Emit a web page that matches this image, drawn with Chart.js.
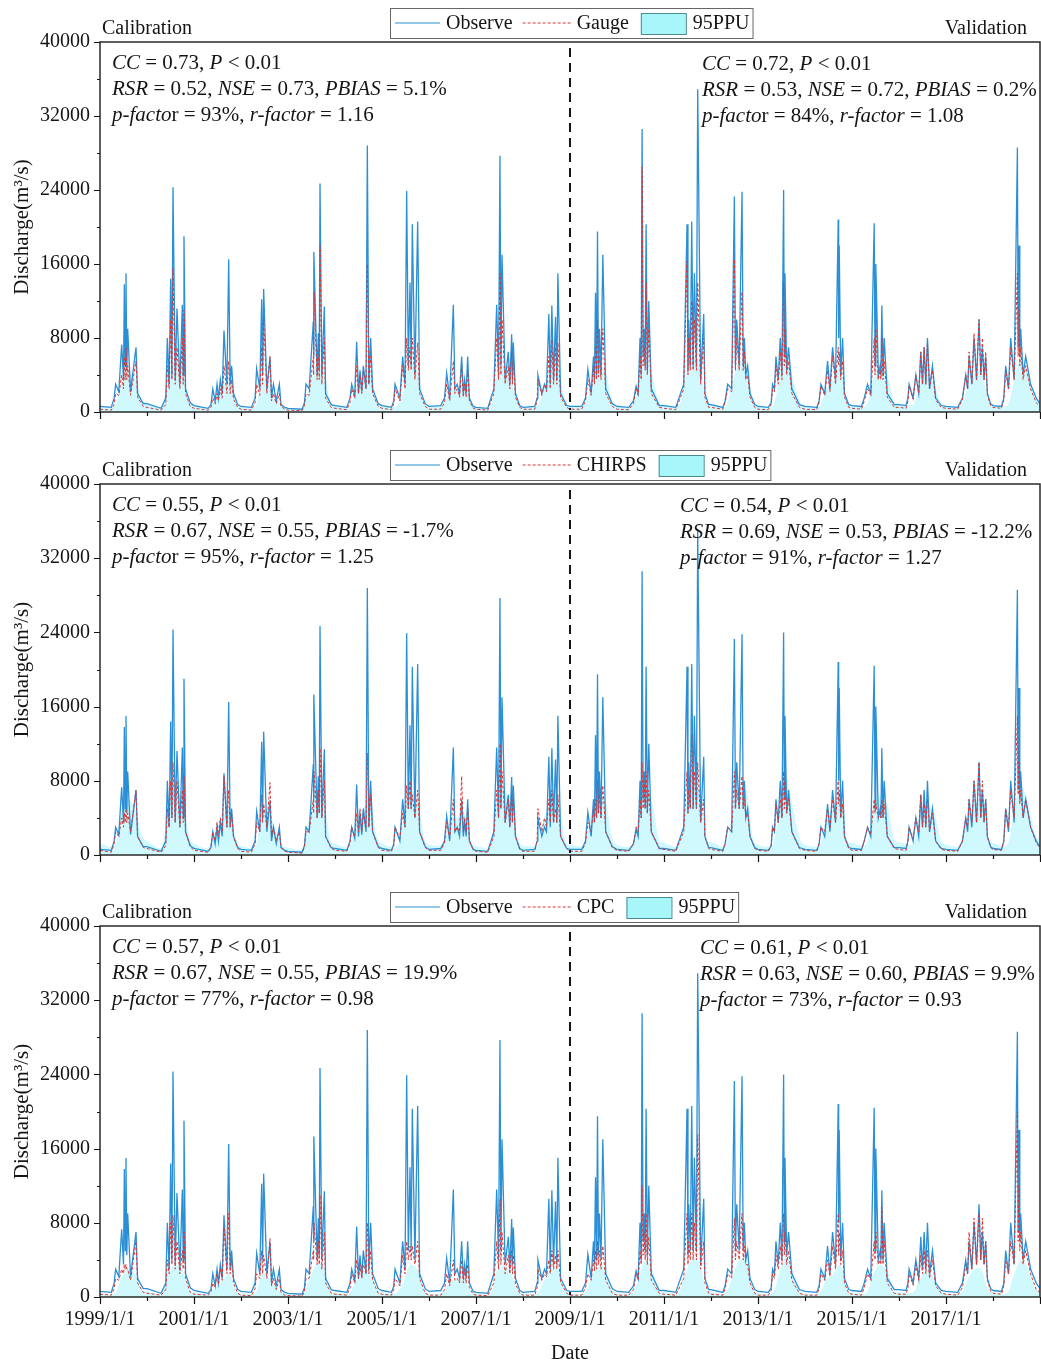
<!DOCTYPE html>
<html>
<head>
<meta charset="utf-8">
<script src="https://cdn.jsdelivr.net/npm/chart.js@4.4.1/dist/chart.umd.min.js"></script>
<style>
  body { margin: 0; background: #fff; }
  .pan { position: relative; width: 1041px; }
</style>
</head>
<body>
<div class="pan" style="height:442px"><canvas id="c0"></canvas></div>
<div class="pan" style="height:442px"><canvas id="c1"></canvas></div>
<div class="pan" style="height:482px"><canvas id="c2"></canvas></div>
<script>
/* Daily discharge 1999-2018: observed vs. simulated (Gauge / CHIRPS / CPC), 95PPU band */

const TICK_YEARS = [1999, 2001, 2003, 2005, 2007, 2009, 2011, 2013, 2015, 2017];
const SPLIT_YEAR = 2009;

// time (decimal years), 16 points per year
const T = [
  1999.00,1999.24,1999.30,1999.333,1999.40,1999.461,1999.50,1999.518,1999.536,1999.553,1999.571,1999.589,1999.65,1999.766,1999.80,1999.92,
  2000.00,2000.30,2000.40,2000.433,2000.47,2000.504,2000.53,2000.553,2000.60,2000.638,2000.70,2000.752,2000.77,2000.787,2000.82,2000.92,
  2001.00,2001.30,2001.36,2001.40,2001.45,2001.49,2001.52,2001.56,2001.60,2001.638,2001.70,2001.738,2001.77,2001.80,2001.84,2001.93,
  2002.00,2002.22,2002.30,2002.333,2002.40,2002.44,2002.46,2002.482,2002.55,2002.617,2002.65,2002.69,2002.75,2002.816,2002.85,2002.93,
  2003.00,2003.30,2003.35,2003.383,2003.45,2003.539,2003.546,2003.553,2003.62,2003.645,2003.665,2003.681,2003.72,2003.773,2003.80,2003.92,
  2004.00,2004.25,2004.32,2004.355,2004.42,2004.461,2004.50,2004.532,2004.57,2004.603,2004.66,2004.688,2004.72,2004.759,2004.80,2004.92,
  2005.00,2005.20,2005.25,2005.277,2005.38,2005.44,2005.49,2005.525,2005.56,2005.596,2005.62,2005.645,2005.70,2005.759,2005.80,2005.92,
  2006.00,2006.25,2006.33,2006.376,2006.44,2006.518,2006.55,2006.60,2006.65,2006.695,2006.73,2006.759,2006.79,2006.823,2006.86,2006.94,
  2007.00,2007.25,2007.38,2007.44,2007.48,2007.51,2007.53,2007.553,2007.62,2007.688,2007.72,2007.759,2007.775,2007.794,2007.84,2007.93,
  2008.00,2008.25,2008.30,2008.317,2008.40,2008.458,2008.50,2008.55,2008.58,2008.614,2008.65,2008.692,2008.72,2008.742,2008.80,2008.93,
  2009.00,2009.25,2009.33,2009.38,2009.45,2009.50,2009.52,2009.543,2009.565,2009.585,2009.605,2009.627,2009.66,2009.698,2009.76,2009.90,
  2010.00,2010.25,2010.35,2010.407,2010.45,2010.49,2010.515,2010.534,2010.555,2010.575,2010.60,2010.619,2010.645,2010.676,2010.73,2010.90,
  2011.00,2011.25,2011.42,2011.49,2011.51,2011.526,2011.56,2011.59,2011.62,2011.646,2011.69,2011.717,2011.78,2011.845,2011.87,2011.95,
  2012.00,2012.25,2012.30,2012.355,2012.44,2012.497,2012.52,2012.547,2012.60,2012.66,2012.685,2012.71,2012.74,2012.78,2012.83,2012.93,
  2013.00,2013.22,2013.28,2013.31,2013.35,2013.382,2013.43,2013.474,2013.51,2013.545,2013.56,2013.574,2013.61,2013.65,2013.72,2013.88,
  2014.00,2014.25,2014.30,2014.339,2014.42,2014.48,2014.53,2014.587,2014.65,2014.707,2014.716,2014.728,2014.76,2014.80,2014.84,2014.93,
  2015.00,2015.20,2015.26,2015.33,2015.40,2015.472,2015.49,2015.507,2015.56,2015.60,2015.615,2015.635,2015.66,2015.685,2015.75,2015.90,
  2016.00,2016.15,2016.19,2016.215,2016.30,2016.358,2016.42,2016.464,2016.50,2016.535,2016.57,2016.606,2016.65,2016.712,2016.78,2016.90,
  2017.00,2017.25,2017.35,2017.42,2017.46,2017.491,2017.55,2017.597,2017.65,2017.703,2017.74,2017.774,2017.81,2017.845,2017.88,2017.95,
  2018.00,2018.18,2018.23,2018.27,2018.33,2018.377,2018.45,2018.519,2018.535,2018.554,2018.57,2018.589,2018.64,2018.696,2018.80,2018.92,
  2019.00
];

// observed discharge (m3/s)
const OBS = [
  600,500,1500,3000,2200,7300,3500,13800,5000,15000,4500,9000,2200,7000,2000,900,
  900,400,1500,8000,3000,14400,4000,24300,3500,11200,3000,11600,4000,19000,2500,1000,
  700,400,800,2500,1200,3000,1500,3500,2000,8800,3000,16500,3000,5000,2000,800,
  600,500,1500,4700,2500,12200,4000,13300,2500,5900,1500,3000,1200,3000,800,500,
  400,300,1000,3000,2500,9800,6000,17300,4000,8500,4500,24700,4000,11400,2000,800,
  700,500,1500,3000,1800,7600,2000,4500,2200,5000,2500,28800,3000,8000,2500,900,
  700,500,1200,3000,1500,6000,3000,23900,5000,14000,5000,20300,4000,20600,2500,900,
  600,700,1500,4200,1500,11600,2500,3000,2000,6000,2000,3500,2000,6000,1500,600,
  500,400,2500,11600,4000,27700,5000,17000,3500,6500,3000,8400,3500,7500,2000,700,
  500,600,1500,4000,2000,3000,2500,10600,3000,11500,3500,10300,3500,15000,2000,700,
  600,600,1500,4600,2000,6000,3500,12900,4000,19500,4500,9000,4000,17000,2500,900,
  600,500,1200,2800,2000,8000,4000,30600,6000,9000,5000,20300,4500,12000,2500,700,
  700,500,3000,20300,4500,10000,5000,20600,5000,15000,5000,34900,3500,10600,2000,800,
  800,500,1200,3000,2500,23300,5000,10000,5000,23800,5000,8000,4000,5000,2000,800,
  600,500,1000,3000,2500,6000,3500,8000,4000,24000,6000,15000,4500,7000,2500,800,
  600,500,1200,3000,2000,5500,2500,7000,3500,20800,8000,18000,4000,8000,2000,800,
  700,600,1500,3000,2000,20400,5000,16000,4000,5000,4000,11500,4000,8000,2000,800,
  800,700,1500,3000,1500,4000,2000,6500,3000,7000,3000,8000,2500,5000,1500,700,
  600,500,1500,4000,2500,6000,3000,8000,3500,10000,4000,7000,3500,6000,2000,900,
  700,600,1500,5000,2500,8000,3500,28600,7000,18000,6000,9000,4000,6000,3000,1500,
  900
];

// simulated with gauge rainfall
const GAUGE = [
  300,200,800,2000,1800,4000,2500,6000,3500,7000,3500,5000,1800,5500,1600,600,
  500,200,800,5000,2500,10000,3500,15500,3000,7000,2500,8000,3000,11000,2000,600,
  400,200,500,1500,900,2000,1200,2500,1500,5000,2000,5500,2000,3500,1400,500,
  300,200,1000,3000,1800,7000,3000,10000,2000,6000,1200,2000,900,2000,600,300,
  200,150,700,2000,1800,6000,4000,13000,3500,6000,3500,18000,3000,8000,1500,500,
  400,250,1000,2500,1500,5000,2000,4000,2000,4500,2500,16000,3000,6000,2000,600,
  400,250,900,2500,1200,5000,2500,8000,4500,7000,4500,8000,3500,7500,2000,600,
  300,300,1000,3000,1200,5500,2000,2500,1600,5000,1600,3000,1600,4500,1200,400,
  300,200,2000,8000,3500,15000,4000,10000,3000,5000,2500,6500,3000,5500,1600,500,
  300,300,1200,3500,1800,3000,2200,6000,2500,7800,3000,7000,3000,7500,1600,500,
  300,300,1200,3500,1800,5000,3000,7000,3500,10000,3800,6000,3500,9000,2000,600,
  300,250,900,2500,1800,6000,3500,26500,5000,7000,4500,14000,4000,9000,2000,500,
  400,250,2500,16300,4000,8000,4500,12000,4500,10000,4500,14000,3000,8000,1600,500,
  500,300,1000,2500,2200,16500,4500,8000,4500,13000,4500,6500,3500,4000,1600,500,
  300,250,800,2500,2200,5000,3000,6500,3500,14000,5000,9000,4000,5500,2000,500,
  300,250,1000,2800,1800,4500,2200,6000,3000,7000,5000,6500,3500,5500,1600,500,
  400,300,1200,2500,1800,8000,4000,9000,3500,4500,3500,8000,3500,5500,1600,500,
  500,400,1200,2800,1400,4000,2000,6500,3000,7000,3000,7500,2500,4500,1300,500,
  400,300,1300,4000,2500,6500,3000,8500,3500,10000,4000,8000,3500,6500,1800,700,
  500,400,1300,4500,2500,7000,3500,15000,6000,11000,5000,7000,3500,5000,2500,1000,
  600
];

// simulated with CHIRPS rainfall
const CHIRPS = [
  500,300,1200,2500,2000,4000,3000,4500,3500,5000,3500,4500,2500,7000,2000,800,
  700,300,1000,5000,3000,8000,4000,10000,3500,8000,3000,7000,3500,8500,2500,900,
  500,300,800,2500,1500,3500,2000,4000,2500,8500,3000,7000,3000,4500,2000,700,
  400,300,1200,3500,2500,6500,3500,5500,3000,7800,2000,3000,1500,2500,900,400,
  300,200,900,2500,2500,6000,4500,9000,4000,7000,4500,11500,4000,8000,2000,700,
  500,400,1300,3000,2000,4500,2500,5000,2500,4500,3000,11000,3000,6500,2500,800,
  500,400,1000,3000,1800,4500,3000,7500,5000,8000,5000,6500,4000,7000,2500,800,
  500,500,1300,3500,1800,6000,2500,3000,2500,8500,2500,4000,2500,5000,1500,600,
  400,300,2000,7000,4000,12000,5000,9000,3500,6000,3000,6500,3500,6000,2000,600,
  400,400,1500,5000,2500,4000,3000,6000,3500,7000,3500,5000,3500,6500,2000,700,
  400,400,1300,3500,2500,5000,3500,6000,4000,8000,4500,6500,4000,7500,2500,800,
  500,400,1200,3000,2500,6000,4000,10000,5000,8000,5000,9000,4500,7000,2500,700,
  600,400,2500,9000,4500,7000,5000,13000,5000,9000,5000,10000,3500,6000,2000,700,
  600,400,1200,3000,2500,9000,5000,7000,5000,8500,5000,6000,4000,4500,2000,700,
  500,400,1000,3000,2500,5500,3500,6000,4000,9000,5000,8000,4500,6000,2500,700,
  500,400,1200,3000,2500,5000,2800,6000,3500,8000,5500,7000,4000,5500,2000,700,
  500,500,1500,3000,2200,6000,4500,5500,4000,4500,4000,6000,4000,5500,2000,700,
  600,500,1500,3000,1800,4000,2500,6500,3000,5500,3000,6000,2500,4500,1500,600,
  500,400,1500,4000,2800,6000,3500,8000,3500,10000,4000,8000,3500,6000,2000,800,
  600,500,1500,5000,3000,7000,4000,15000,6500,10000,5500,7000,4000,6000,3000,1300,
  700
];

// simulated with CPC rainfall
const CPC = [
  300,200,900,2000,1800,3000,2500,3500,3000,3500,3000,3000,1800,6000,1500,500,
  400,200,800,4000,2500,8000,3500,8800,3000,6000,2500,5000,3000,7000,2000,500,
  300,200,500,1500,1000,2500,1300,3000,1800,7500,2500,9000,2500,4000,1500,400,
  200,150,900,2500,2000,5000,2500,4500,2000,6300,1200,2000,800,2000,500,200,
  150,100,600,2000,2000,5000,4000,8000,3500,6000,3500,11000,3000,7000,1500,400,
  300,200,1000,2500,1500,4000,2000,3500,2000,3500,2500,8000,2500,5000,1800,400,
  300,200,800,2000,1200,4500,2500,6000,4000,5500,4000,5500,3500,6000,2000,400,
  200,200,800,2500,1200,4000,1800,2000,1500,4000,1500,3000,1500,3500,1000,300,
  200,150,1500,6000,3000,10500,3500,7000,2500,4500,2500,5000,2500,4500,1400,400,
  200,200,1000,3000,1800,2500,2200,4000,2500,5000,3000,4500,3000,5000,1600,400,
  200,200,1000,2500,1800,4000,2800,5000,3000,6000,3500,5000,3000,5500,1800,400,
  200,200,800,2500,1800,5000,3500,12000,4500,7000,4000,9000,3500,6500,1800,400,
  300,200,2000,9000,3500,6000,4000,9000,4000,8000,4000,17500,3000,6000,1500,400,
  300,200,900,2500,2000,8500,4000,6000,4000,9000,4000,5500,3500,3500,1500,400,
  200,200,700,2500,2000,4500,3000,5500,3500,9000,4500,7000,3500,5000,1800,400,
  200,200,900,2500,1800,4000,2200,5500,3000,9000,4500,7000,3500,5000,1500,400,
  300,200,1000,2500,1800,6000,4000,7000,3500,4000,3500,9700,3500,6000,1500,400,
  300,300,1000,2500,1300,3500,1800,4500,2500,5000,2500,5000,2000,4000,1200,400,
  300,200,1000,3500,2500,7000,3000,8500,3500,9000,4000,8500,3500,6000,1800,600,
  400,300,1200,4000,2500,6000,3500,20000,6000,12000,5000,7000,3500,5000,2500,800,
  500
];

// 95PPU upper bound, 6 points per year
const PPU_T = [
  1999.00,1999.30,1999.45,1999.60,1999.75,1999.90, 2000.00,2000.30,2000.45,2000.60,2000.75,2000.90,
  2001.00,2001.30,2001.45,2001.60,2001.75,2001.90, 2002.00,2002.30,2002.45,2002.60,2002.75,2002.90,
  2003.00,2003.30,2003.45,2003.60,2003.75,2003.90, 2004.00,2004.30,2004.45,2004.60,2004.75,2004.90,
  2005.00,2005.30,2005.45,2005.60,2005.75,2005.90, 2006.00,2006.30,2006.45,2006.60,2006.75,2006.90,
  2007.00,2007.30,2007.45,2007.60,2007.75,2007.90, 2008.00,2008.30,2008.45,2008.60,2008.75,2008.90,
  2009.00,2009.30,2009.45,2009.60,2009.75,2009.90, 2010.00,2010.30,2010.45,2010.60,2010.75,2010.90,
  2011.00,2011.30,2011.45,2011.60,2011.75,2011.90, 2012.00,2012.30,2012.45,2012.60,2012.75,2012.90,
  2013.00,2013.30,2013.45,2013.60,2013.75,2013.90, 2014.00,2014.30,2014.45,2014.60,2014.75,2014.90,
  2015.00,2015.30,2015.45,2015.60,2015.75,2015.90, 2016.00,2016.30,2016.45,2016.60,2016.75,2016.90,
  2017.00,2017.30,2017.45,2017.60,2017.75,2017.90, 2018.00,2018.30,2018.45,2018.60,2018.75,2018.90,
  2019.00
];
const PPU_GAUGE = [
  700,600,3000,4500,3500,1200, 1000,500,4000,5500,4500,1200,
  800,500,1500,2500,3500,1000, 600,600,3500,3000,1500,600,
  500,400,2500,5000,5000,1000, 800,600,2500,3500,4500,1100,
  800,600,2000,5500,4500,1100, 700,800,2500,2500,3000,800,
  600,500,4000,5000,3500,900, 600,700,2500,4000,4500,900,
  700,700,3000,5000,4500,1100, 700,600,2500,6000,4000,900,
  800,600,3500,6000,5500,1000, 900,600,3000,5500,5500,1000,
  700,600,3500,6500,3500,1000, 700,600,2500,3500,5000,1000,
  800,700,3500,5000,4000,1000, 900,800,3000,4000,3000,900,
  700,600,2500,4000,4500,1200, 800,700,3500,6000,4000,1600,
  1000
];
const PPU_CHIRPS = [
  1200,900,4500,6000,5000,2000, 1500,800,5500,7000,6000,2000,
  1200,800,2500,4000,5000,1600, 1000,900,5000,4500,2500,1000,
  800,700,4000,7000,6500,1600, 1200,900,4000,5000,6000,1800,
  1200,900,3500,7000,6000,1800, 1100,1200,4000,4000,4500,1300,
  1000,800,5500,7000,5000,1500, 1000,1100,4000,5500,6000,1500,
  1100,1100,4500,6500,6000,1700, 1100,1000,4000,7500,5500,1500,
  1300,1000,5000,7500,7000,1600, 1400,1000,4500,7000,7000,1600,
  1100,1000,5000,8000,5000,1600, 1100,1000,4000,5000,6500,1600,
  1300,1100,5000,6500,5500,1600, 1400,1200,4500,5500,4500,1500,
  1100,1000,4000,5500,6000,1800, 1300,1100,5000,7500,5500,2200,
  1500
];
const PPU_CPC = [
  400,300,2000,3000,2500,700, 600,300,2500,3500,3000,700,
  500,300,1000,1800,2500,600, 400,400,2500,2000,1000,400,
  300,250,1800,3500,3500,600, 500,400,1800,2500,3000,700,
  500,400,1500,3500,3000,700, 400,500,1800,1800,2000,500,
  400,300,2800,3500,2500,500, 400,400,1800,3000,3000,500,
  400,400,2000,3500,3000,700, 400,400,1800,4000,3000,500,
  500,400,2500,4000,3800,600, 500,400,2000,4000,4000,600,
  400,400,2500,4500,2500,600, 400,400,1800,2500,3500,600,
  500,400,2500,3500,2800,600, 500,500,2000,3000,2000,500,
  400,400,1800,3000,3000,700, 500,400,2500,4000,3000,900,
  600
];

// performance statistics (*...* = italic)
const STATS_GAUGE = [
  ['*CC* = 0.73, *P* < 0.01', '*RSR* = 0.52, *NSE* = 0.73, *PBIAS* = 5.1%', '*p-facto*r = 93%, *r-factor* = 1.16'],
  ['*CC* = 0.72, *P* < 0.01', '*RSR* = 0.53, *NSE* = 0.72, *PBIAS* = 0.2%', '*p-facto*r = 84%, *r-factor* = 1.08']
];
const STATS_CHIRPS = [
  ['*CC* = 0.55, *P* < 0.01', '*RSR* = 0.67, *NSE* = 0.55, *PBIAS* = -1.7%', '*p-facto*r = 95%, *r-factor* = 1.25'],
  ['*CC* = 0.54, *P* < 0.01', '*RSR* = 0.69, *NSE* = 0.53, *PBIAS* = -12.2%', '*p-facto*r = 91%, *r-factor* = 1.27']
];
const STATS_CPC = [
  ['*CC* = 0.57, *P* < 0.01', '*RSR* = 0.67, *NSE* = 0.55, *PBIAS* = 19.9%', '*p-facto*r = 77%, *r-factor* = 0.98'],
  ['*CC* = 0.61, *P* < 0.01', '*RSR* = 0.63, *NSE* = 0.60, *PBIAS* = 9.9%', '*p-facto*r = 73%, *r-factor* = 0.93']
];

const FONT = '"Liberation Serif", "Times New Roman", serif';
const BLUE = '#2b8fd6';
const RED = 'rgb(214,56,56)';
const CYAN = 'rgba(130,238,248,0.38)';
const INK = '#151515';

const pts = (ts, vs) => ts.map((t, i) => ({ x: t, y: vs[i] }));

function richLine(ctx, s, x, y) {
  s.split('*').forEach((part, i) => {
    ctx.font = (i % 2 ? 'italic ' : '') + '21px ' + FONT;
    ctx.fillText(part, x, y);
    x += ctx.measureText(part).width;
  });
}

/* ---------- frame, ticks, split line, legend, labels ---------- */

const framePlugin = {
  id: 'frame',
  afterDraw(chart, args, o) {
    const { ctx, chartArea: a, scales: { x, y } } = chart;
    ctx.save();
    ctx.strokeStyle = '#2a2a2a';
    ctx.lineWidth = 1.5;
    ctx.strokeRect(a.left, a.top, a.right - a.left, a.bottom - a.top);

    ctx.lineWidth = 1.2;
    ctx.strokeStyle = INK;
    ctx.beginPath();
    for (let yr = 1999; yr <= 2019; yr++) {
      const px = Math.round(x.getPixelForValue(yr)) + 0.5;
      const len = (yr - 1999) % 2 === 0 ? 7 : 4;
      ctx.moveTo(px, a.bottom);
      ctx.lineTo(px, a.bottom + len);
    }
    for (let v = 0; v <= 40000; v += 4000) {
      const py = Math.round(y.getPixelForValue(v)) + 0.5;
      const len = v % 8000 === 0 ? 6 : 3;
      ctx.moveTo(a.left, py);
      ctx.lineTo(a.left - len, py);
    }
    ctx.stroke();

    // calibration / validation split
    const sx = x.getPixelForValue(SPLIT_YEAR);
    ctx.setLineDash([9, 6]);
    ctx.lineWidth = 2;
    ctx.beginPath();
    ctx.moveTo(sx, a.top + 6);
    ctx.lineTo(sx, a.bottom - 2);
    ctx.stroke();
    ctx.setLineDash([]);

    // period labels
    ctx.fillStyle = INK;
    ctx.textBaseline = 'middle';
    ctx.font = '20px ' + FONT;
    ctx.textAlign = 'left';
    ctx.fillText('Calibration', a.left + 2, a.top - 13);
    ctx.textAlign = 'right';
    ctx.fillText('Validation', a.right - 13, a.top - 13);
    ctx.textAlign = 'left';

    // statistics
    o.stats[0].forEach((s, i) => richLine(ctx, s, a.left + 12, a.top + 21 + i * 26));
    o.stats[1].forEach((s, i) => richLine(ctx, s, o.valX, a.top + 22 + i * 26));

    // legend
    ctx.font = '20px ' + FONT;
    const wObs = ctx.measureText('Observe').width;
    const wSim = ctx.measureText(o.sim).width;
    const wPpu = ctx.measureText('95PPU').width;
    const bx = 390, by = 8, bh = 30, cy = by + bh / 2;
    const bw = 5 + 45 + 6 + wObs + 10 + 50 + 4 + wSim + 12 + 45 + 7 + wPpu + 3;
    ctx.fillStyle = '#fff';
    ctx.fillRect(bx, by, bw, bh);
    ctx.strokeStyle = '#666';
    ctx.lineWidth = 1;
    ctx.strokeRect(bx + 0.5, by + 0.5, bw, bh);
    let lx = bx + 5;
    ctx.strokeStyle = BLUE;
    ctx.lineWidth = 1.2;
    ctx.beginPath(); ctx.moveTo(lx, cy); ctx.lineTo(lx + 45, cy); ctx.stroke();
    lx += 51;
    ctx.fillStyle = INK;
    ctx.fillText('Observe', lx, cy + 1);
    lx += wObs + 10;
    ctx.strokeStyle = RED;
    ctx.lineWidth = 1;
    ctx.setLineDash([3, 2]);
    ctx.beginPath(); ctx.moveTo(lx, cy); ctx.lineTo(lx + 50, cy); ctx.stroke();
    ctx.setLineDash([]);
    lx += 54;
    ctx.fillText(o.sim, lx, cy + 1);
    lx += wSim + 12;
    ctx.fillStyle = '#a8f5fa';
    ctx.fillRect(lx, by + 5, 45, 21);
    ctx.strokeStyle = '#4d8a8e';
    ctx.strokeRect(lx + 0.5, by + 5.5, 45, 21);
    lx += 52;
    ctx.fillStyle = INK;
    ctx.fillText('95PPU', lx, cy + 1);
    ctx.restore();
  }
};

/* ---------- panels ---------- */

const PANELS = [
  { id: 'c0', name: 'Gauge', sim: GAUGE, band: PPU_GAUGE, stats: STATS_GAUGE, valX: 702, xh: 30, labels: false },
  { id: 'c1', name: 'CHIRPS', sim: CHIRPS, band: PPU_CHIRPS, stats: STATS_CHIRPS, valX: 680, xh: 29, labels: false },
  { id: 'c2', name: 'CPC', sim: CPC, band: PPU_CPC, stats: STATS_CPC, valX: 700, xh: 69, labels: true }
];

function maakPanel(p) {
  new Chart(document.getElementById(p.id), {
    type: 'line',
    data: {
      datasets: [
        { label: p.name, data: pts(T, p.sim), borderColor: RED, borderWidth: 1, borderDash: [3, 2],
          pointRadius: 0, tension: 0, fill: false, order: 1 },
        { label: 'Observe', data: pts(T, OBS), borderColor: BLUE, borderWidth: 1.3,
          pointRadius: 0, tension: 0, fill: false, order: 2 },
        { label: '95PPU', data: pts(PPU_T, p.band), borderColor: 'rgba(0,0,0,0)', borderWidth: 0,
          backgroundColor: CYAN, pointRadius: 0, tension: 0.3, fill: 'origin', order: 3 }
      ]
    },
    options: {
      responsive: true,
      maintainAspectRatio: false,
      animation: false,
      layout: { padding: { top: 42, right: 1, left: 0, bottom: 0 } },
      plugins: {
        legend: { display: false },
        tooltip: { enabled: false },
        frame: { sim: p.name, stats: p.stats, valX: p.valX }
      },
      scales: {
        x: {
          type: 'linear', min: 1999, max: 2019,
          grid: { display: false, drawTicks: false },
          border: { display: false },
          afterFit: s => { s.height = p.xh; },
          afterBuildTicks: s => { s.ticks = TICK_YEARS.map(v => ({ value: v })); },
          ticks: {
            display: p.labels, autoSkip: false, maxRotation: 0, padding: 11, color: INK,
            font: { family: FONT, size: 20 }, callback: v => v + '/1/1'
          },
          title: { display: p.labels, text: 'Date', color: INK, font: { family: FONT, size: 20 }, padding: { top: 0, bottom: 0 } }
        },
        y: {
          min: 0, max: 40000,
          grid: { display: false, drawTicks: false },
          border: { display: false },
          afterFit: s => { s.width = 100; },
          ticks: { stepSize: 8000, padding: 10, color: INK, font: { family: FONT, size: 20 }, callback: v => String(v) },
          title: { display: true, text: 'Discharge(m³/s)', color: INK, font: { family: FONT, size: 21 }, padding: { top: 10, bottom: 0 } }
        }
      }
    },
    plugins: [framePlugin]
  });
}

PANELS.forEach(maakPanel);
</script>
</body>
</html>
